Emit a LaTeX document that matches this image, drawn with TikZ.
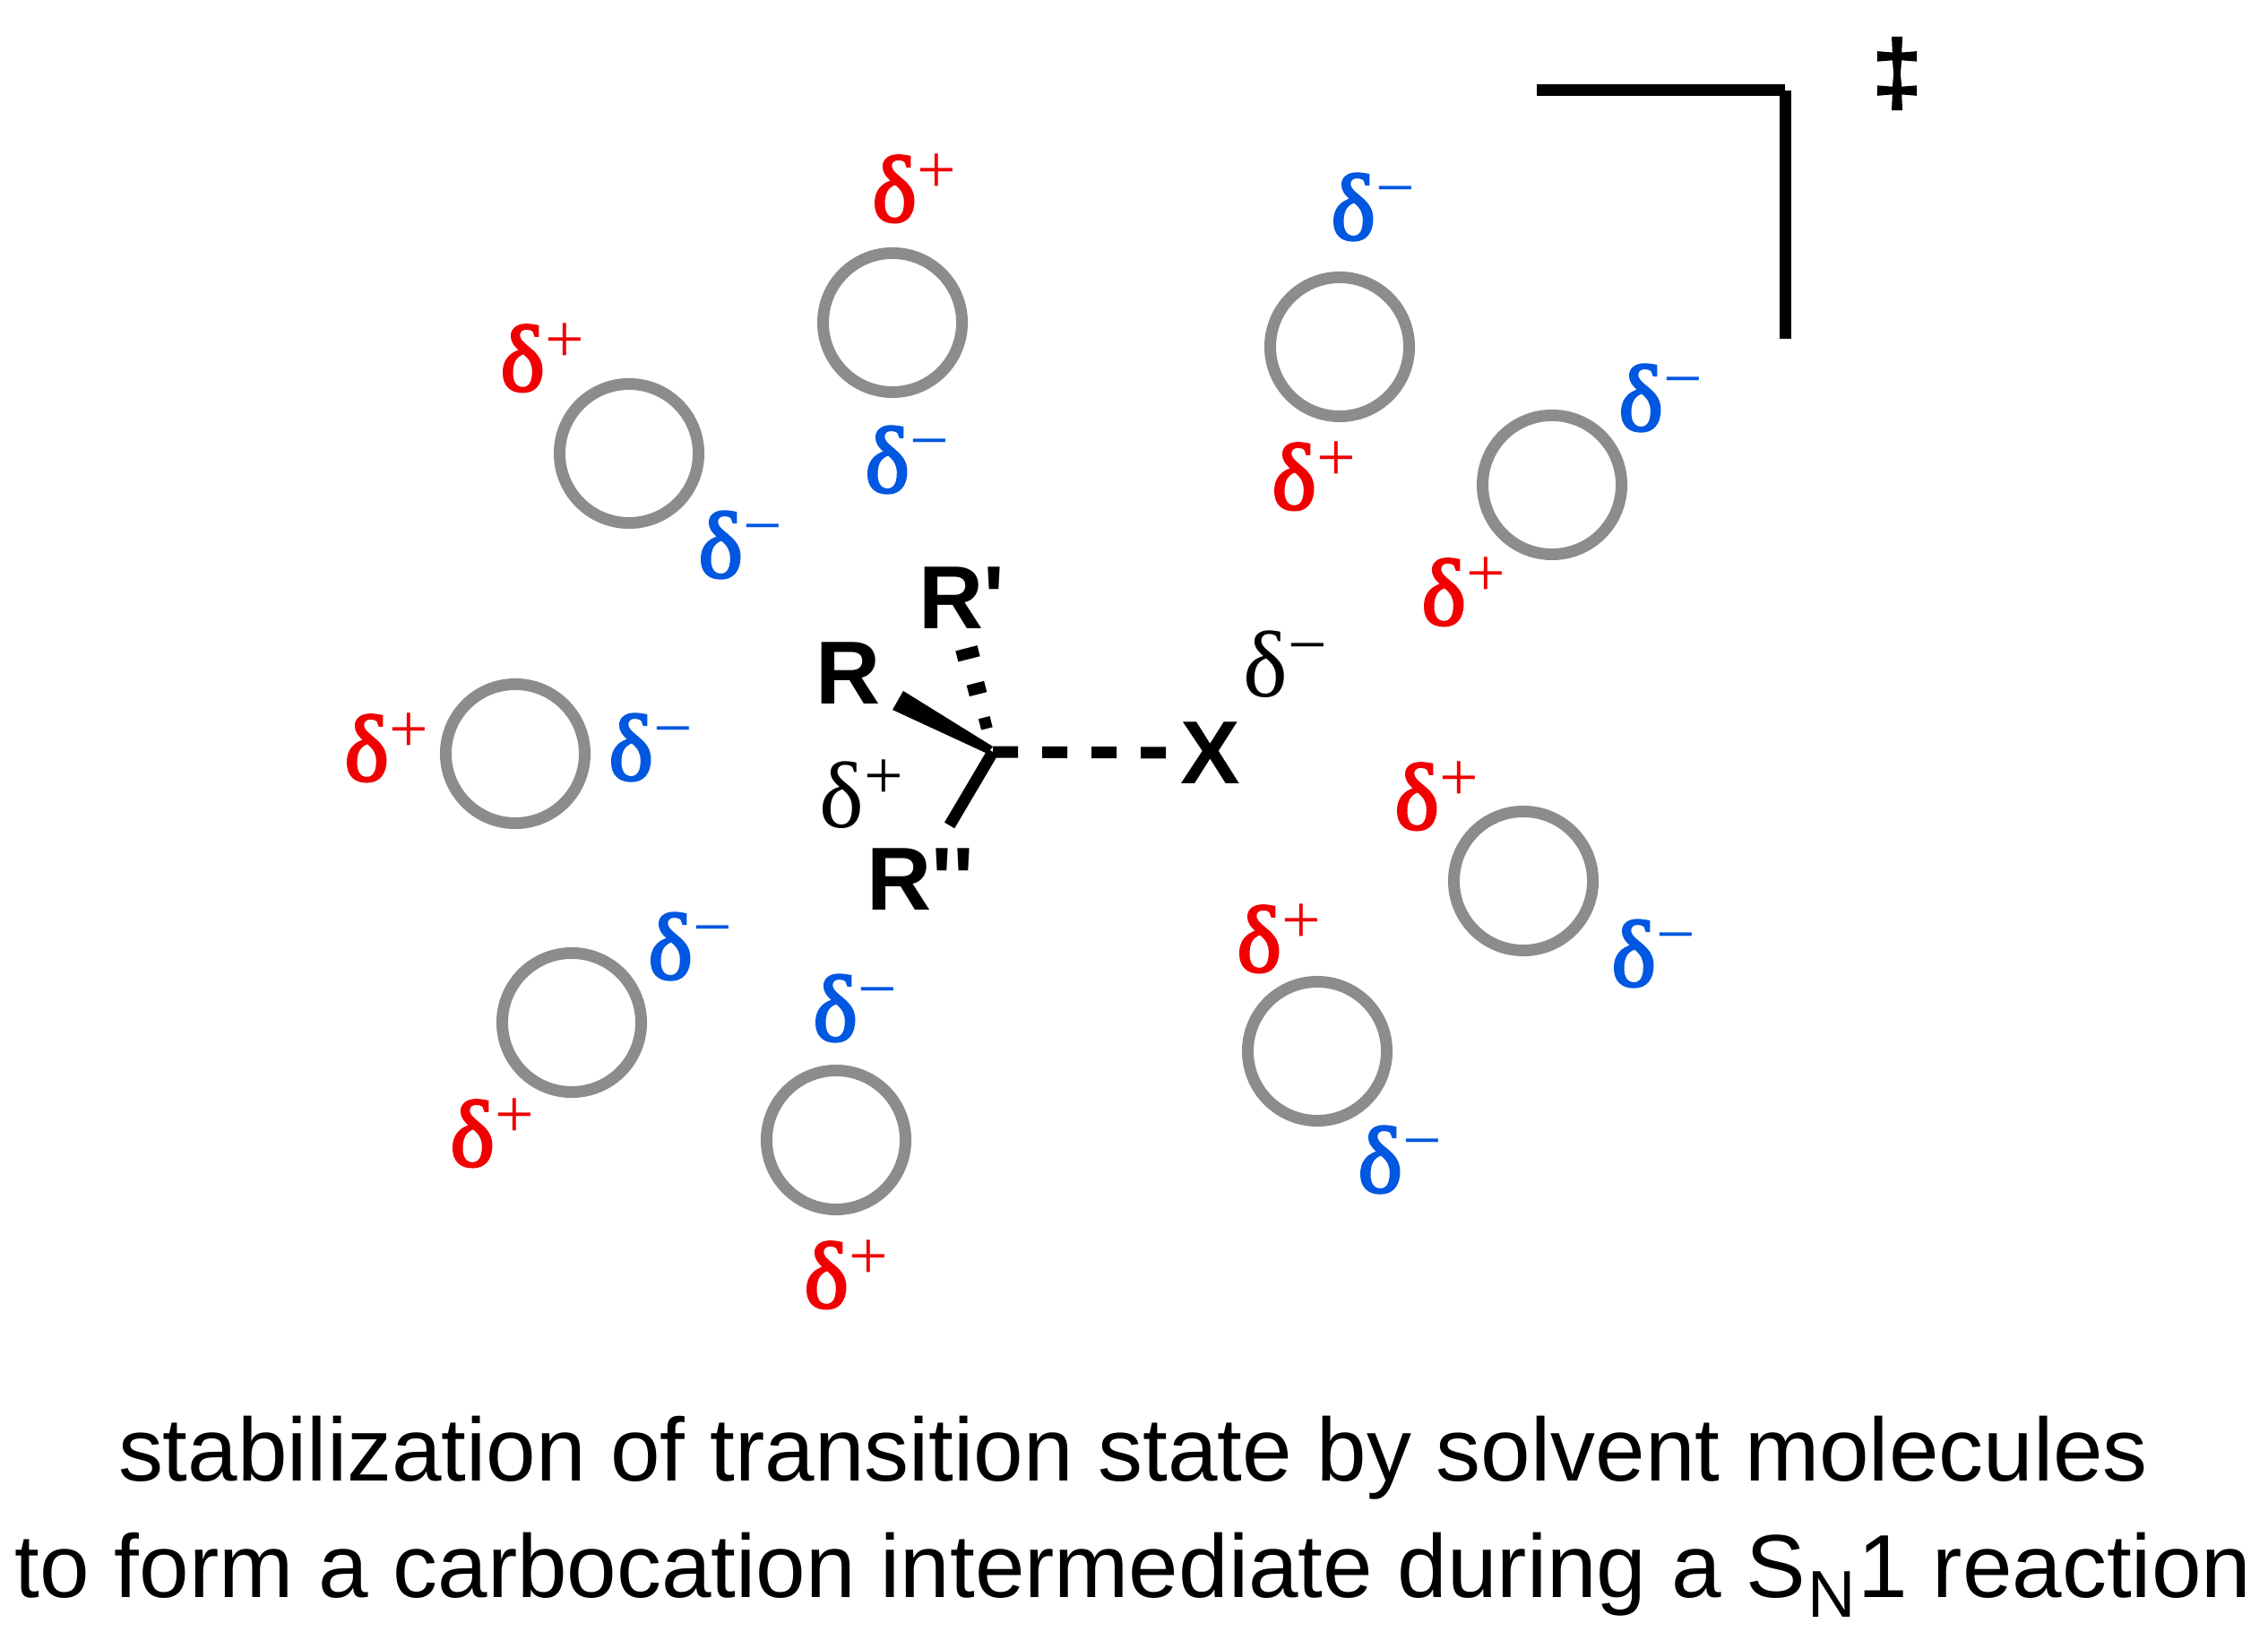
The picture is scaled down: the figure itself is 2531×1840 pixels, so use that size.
\documentclass[tikz,border=0pt]{standalone}
\usepackage{fontspec}
\setmainfont{Liberation Serif}
\newfontfamily\arialfont{Liberation Sans}
\newfontfamily\deltafont[FakeBold=2.5]{Liberation Serif}
\newfontfamily\dagfont[BoldFeatures={FakeBold=1.2}]{Liberation Sans}
\usetikzlibrary{calc}
\definecolor{solvgray}{HTML}{8C8C8C}
\definecolor{plusred}{HTML}{F00000}
\definecolor{minusblue}{HTML}{0057E0}
\newcommand{\delplus}{δ\raisebox{9pt}{\rmfamily\fontsize{22}{22}\selectfont +}}
\newcommand{\delminus}{δ\raisebox{9pt}{\rmfamily\fontsize{22}{22}\selectfont −}}
\tikzstyle{solvent}=[circle, draw=solvgray, line width=0.13cm, minimum size=1.55cm, inner sep=0]
\tikzstyle{charge}=[inner sep=0, font=\fontsize{30}{30}\selectfont]
\tikzstyle{redcharge}=[charge, text=plusred, font=\deltafont\fontsize{30}{30}\selectfont]
\tikzstyle{bluecharge}=[charge, text=minusblue, font=\deltafont\fontsize{30}{30}\selectfont]
\tikzstyle{group}=[inner sep=0, font=\arialfont\bfseries\fontsize{28.4}{30}\selectfont]
\tikzstyle{bond}=[line width=0.13cm]
\tikzstyle{caption}=[inner sep=0, anchor=base, font=\arialfont\fontsize{28.4}{30}\selectfont]

\begin{document}
\begin{tikzpicture}[x=0.01cm,y=-0.01cm]
        \useasboundingbox (0,0) rectangle (2531,1840);

        % solvent molecules
        \node[solvent] (c1) at (996,360) {};
        \node[redcharge] (p1) at (1020,210) {\delplus};
        \node[bluecharge] (m1) at (1012,513) {\delminus};

        \node[solvent] (c2) at (702,506) {};
        \node[redcharge] (p2) at (605,399) {\delplus};
        \node[bluecharge] (m2) at (826,608) {\delminus};

        \node[solvent] (c3) at (575,841) {};
        \node[redcharge] (p3) at (431,834) {\delplus};
        \node[bluecharge] (m3) at (726,834) {\delminus};

        \node[solvent] (c4) at (638,1141) {};
        \node[redcharge] (p4) at (549,1264) {\delplus};
        \node[bluecharge] (m4) at (770,1056) {\delminus};

        \node[solvent] (c5) at (933,1272) {};
        \node[redcharge] (p5) at (944,1422) {\delplus};
        \node[bluecharge] (m5) at (954,1125) {\delminus};

        \node[solvent] (c6) at (1470,1173) {};
        \node[redcharge] (p6) at (1427,1047) {\delplus};
        \node[bluecharge] (m6) at (1562,1294) {\delminus};

        \node[solvent] (c7) at (1700,983) {};
        \node[redcharge] (p7) at (1603,888) {\delplus};
        \node[bluecharge] (m7) at (1845,1064) {\delminus};

        \node[solvent] (c8) at (1732,541) {};
        \node[redcharge] (p8) at (1633,660) {\delplus};
        \node[bluecharge] (m8) at (1853,444) {\delminus};

        \node[solvent] (c9) at (1495,387) {};
        \node[redcharge] (p9) at (1466,531) {\delplus};
        \node[bluecharge] (m9) at (1532,231) {\delminus};

        % central carbon
        \coordinate (C) at (1108,839);
        \node[group] (R) at (947,751) {R};
        \node[group] (Rp) at (1073,667) {R'};
        \node[group] (Rpp) at (1027,981) {R''};
        \node[group] (X) at (1351,840) {X};
        \node[charge] (dm) at (1434,741) {\delminus};
        \node[charge] (dp) at (961,886) {\delplus};

        \coordinate (wedgea) at (1008,771);
        \coordinate (wedgeb) at (996,792);
        \fill ($(C)+(0,-6)$) -- (wedgea) -- (wedgeb) -- ($(C)+(-6,2)$) -- cycle;

        \draw[line width=0.13cm] ($(C)!0.19!(Rp.south)$) -- ($(C)!0.28!(Rp.south)$);
        \draw[line width=0.20cm] ($(C)!0.47!(Rp.south)$) -- ($(C)!0.56!(Rp.south)$);
        \draw[line width=0.25cm] ($(C)!0.757!(Rp.south)$) -- ($(C)!0.845!(Rp.south)$);

        \draw[bond, shorten >=0.29cm] (C) -- (Rpp.63);
        \draw[bond, dash pattern=on 0.28cm off 0.27cm, shorten >=0.16cm] (C) -- (X.west);

        % transition state bracket
        \coordinate (brl) at (1715,101);
        \coordinate (brc) at (1992,101);
        \coordinate (brb) at (1992,378);
        \draw[bond] (brl) -- (brc);
        \draw[bond] (brc) -- (brb);
        \node[inner sep=0, font=\dagfont\bfseries\fontsize{29}{29}\selectfont] (ddag) at (2117,82) {‡};

        \node[caption] (line1) at (1264.5,1652) {stabilization of transition state by solvent molecules};
        \node[caption] (line2) at (1264.5,1782) {to form a carbocation intermediate during a S\kern 0.02cm\raisebox{-0.22cm}{\fontsize{21}{21}\selectfont N}\kern 0.03cm 1 reaction};

\end{tikzpicture}
\end{document}
